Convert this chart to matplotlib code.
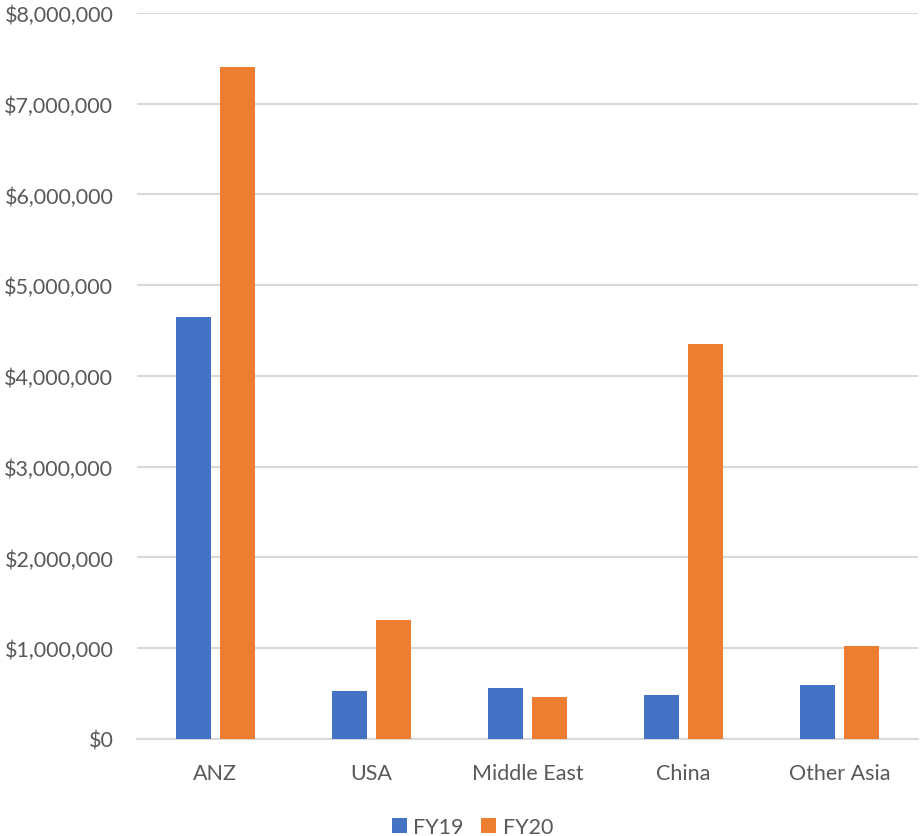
import matplotlib.pyplot as plt
import numpy as np
from matplotlib.ticker import FuncFormatter

# values (dollars)
regions = ["ANZ", "USA", "Middle East", "China", "Other Asia"]
fy19 = [4650000, 530000, 560000, 490000, 590000]
fy20 = [7400000, 1310000, 460000, 4355000, 1020000]

BLUE = "#4472C4"
ORANGE = "#ED7D31"
GRID = "#D9D9D9"
TEXT = "#595959"

plt.rcParams["font.family"] = ["Lato", "DejaVu Sans"]

fig = plt.figure(figsize=(9.21, 8.37), dpi=100)
ax = fig.add_axes([0.1487, 0.1159, 0.848, 0.8674])

x = np.arange(len(regions))
width = 0.224
off = 0.141
ax.bar(x - off, fy19, width, color=BLUE, label="FY19", zorder=3)
ax.bar(x + off, fy20, width, color=ORANGE, label="FY20", zorder=3)

ax.set_xlim(-0.5, len(regions) - 0.5)
ax.set_ylim(0, 8000000)
ax.set_yticks(np.arange(0, 8000001, 1000000))
ax.yaxis.set_major_formatter(FuncFormatter(lambda v, p: f"${v:,.0f}"))
ax.set_xticks(x)
ax.set_xticklabels(regions)

ax.grid(axis="y", color=GRID, linewidth=1.5, zorder=0)
for s in ["top", "right", "left"]:
    ax.spines[s].set_visible(False)
ax.spines["bottom"].set_color(GRID)
ax.spines["bottom"].set_linewidth(1.5)
ax.tick_params(axis="both", length=0, colors=TEXT, labelsize=15.5)
ax.tick_params(axis="y", pad=17)
ax.tick_params(axis="x", pad=17.5)

fig.legend(*ax.get_legend_handles_labels(), loc="center", bbox_to_anchor=(0.513, 0.011),
           ncol=2, frameon=False, fontsize=15.5, labelcolor=TEXT, handlelength=0.7,
           handleheight=0.7, handletextpad=0.3, columnspacing=0.8)

fig.savefig("out.png", dpi=100)
